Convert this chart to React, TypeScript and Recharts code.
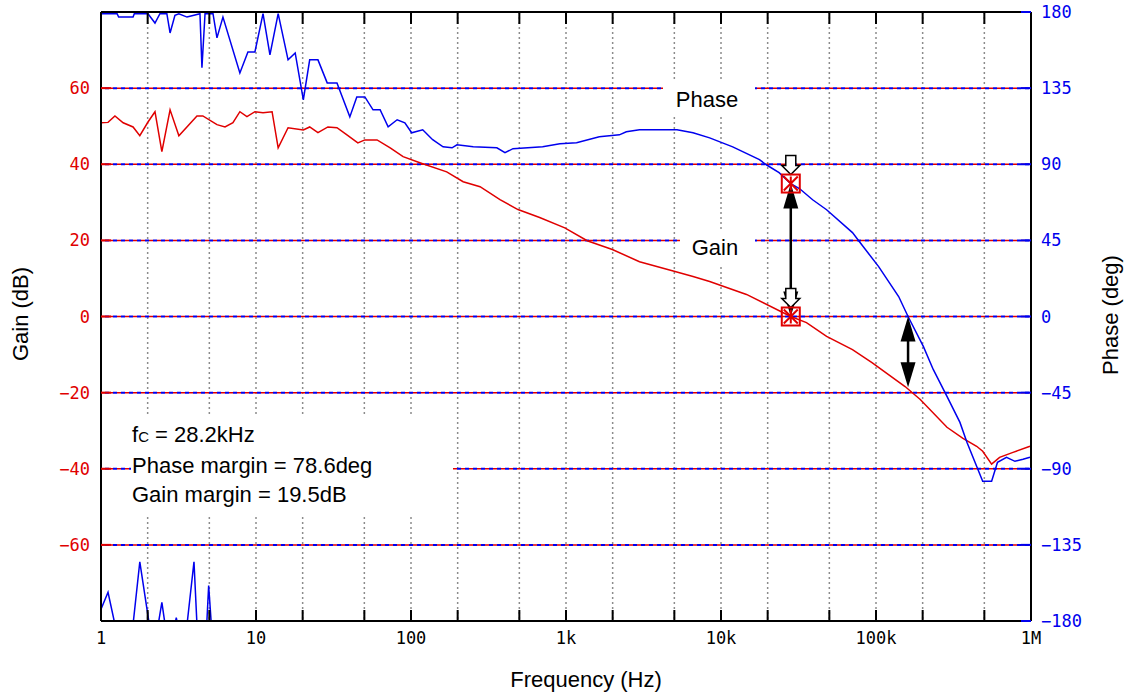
import {
  LineChart,
  Line,
  XAxis,
  YAxis,
  CartesianGrid,
  ReferenceLine,
  ReferenceDot,
} from 'recharts';

// frequency axis
const freqTicks = [
  1, 2, 5, 10, 20, 50, 100, 200, 500, 1000, 2000, 5000, 10000, 20000, 50000, 100000, 200000, 500000,
  1000000,
];
const decadeTicks = [1, 10, 100, 1000, 10000, 100000, 1000000];
const decadeNames = ['1', '10', '100', '1k', '10k', '100k', '1M'];

// left / right axes
const gainTicks = [-60, -40, -20, 0, 20, 40, 60];
const phaseTicks = [-180, -135, -90, -45, 0, 45, 90, 135, 180];

// gain (dB)
const gainFreq = [
  1, 1.11, 1.23, 1.39, 1.61, 1.78, 2.01, 2.23, 2.47, 2.79, 3.18, 4.16, 4.54, 5.6, 6.31, 7.1, 7.87, 8.74,
  9.84, 11.1, 12.7, 13.9, 16.1, 20.2, 22.2, 25.1, 29.1, 33.3, 38.6, 45.4, 50.4, 60.4, 73.4, 88.9, 114,
  170, 217, 279, 375, 490, 676, 982, 1370, 1990, 2980, 5050, 6600, 8450, 14600, 28200, 35600, 48000,
  70500, 94200, 154000, 193000, 287000, 364000, 446000, 488000, 557000, 627000, 765000, 985000,
];
const gainDb = [
  50.9, 51.0, 52.7, 50.9, 49.8, 47.5, 51.1, 53.8, 43.3, 54.3, 47.5, 52.7, 52.7, 50.4, 49.8, 50.9, 53.8,
  52.5, 53.8, 53.5, 53.8, 44.3, 49.6, 49.0, 49.8, 48.3, 49.8, 49.6, 47.7, 45.6, 46.4, 46.4, 44.3, 42.0,
  40.4, 38.0, 35.4, 34.1, 30.7, 28.1, 26.0, 23.3, 19.9, 17.6, 14.4, 11.8, 10.5, 9.2, 5.8, 0, -1.6, -5.2,
  -8.7, -12.1, -18.4, -21.8, -29.1, -32.0, -34.1, -35.4, -38.8, -37.0, -35.7, -34.1,
];

// phase (deg)
const phaseFreq = [
  1, 1.27, 1.3, 1.61, 1.64, 2.01, 2.23, 2.4, 2.66, 2.79, 3.0, 3.18, 3.59, 4.35, 4.48, 4.69, 5.28, 5.6,
  6.12, 7.87, 8.87, 9.84, 11.1, 12.3, 13.9, 16.1, 17.9, 20.2, 22.2, 25.1, 28.8, 33.3, 40.3, 44.7, 50.4,
  56.9, 63.2, 71.2, 81.4, 91.3, 101, 119, 138, 161, 184, 198, 252, 358, 404, 455, 707, 913, 1170, 1640,
  2210, 2450, 2980, 5200, 6600, 8450, 11900, 17700, 19600, 23700, 28200, 32200, 39000, 48000, 70500,
  78000, 104000, 140000, 161000, 202000, 234000, 287000, 348000, 386000, 488000, 557000, 608000, 695000,
  788000, 888000, 985000,
];
const phaseDeg = [
  179, 179, 177, 177, 179, 179, 173.5, 179, 179, 167.6, 178, 179, 177, 179, 147, 179, 179, 164.7, 177,
  144, 156.4, 156.4, 179, 154.6, 179, 151.7, 155.8, 128, 151.7, 151.7, 138.1, 138.1, 118, 129.8, 129.8,
  122.2, 122.2, 112.1, 116.3, 114.5, 108.6, 110.4, 104.5, 100.3, 99.7, 101.5, 100.3, 99.7, 96.8, 99.2,
  100.3, 102.1, 102.7, 106.2, 107.4, 109.2, 110.4, 110.4, 108.6, 105.6, 100.3, 92.7, 89.7, 85, 78.6,
  75.5, 69, 63.1, 49.6, 44.3, 29.5, 11.8, 0, -17.7, -31.3, -47.2, -62.6, -74.4, -97.4, -97.4, -86.2,
  -83.2, -85.6, -84.4, -83.2,
];

// phase wrapped below -180 at low frequency
const wrapFreq = [
  1, 1.11, 1.23, 1.61, 1.78, 1.98, 2.05, 2.34, 2.47, 2.59, 3.0, 3.06, 3.12, 3.59, 3.98, 4.16, 4.81, 4.95,
  5.15,
];
const wrapDeg = [
  -173, -163, -182, -182, -145, -173, -182, -182, -169, -182, -182, -178, -182, -182, -145, -182, -182,
  -159, -182,
];

// crossover results
const fc = 28200;
const phaseMargin = 78.6;
const phaseCross = 161000;
const gainAtCross = -18.6;

const RED = '#e00000';
const BLUE = '#0000ee';
const PLOT_TOP = 12;
const TEXT_FONT = '"Liberation Sans", Arial, sans-serif';
const MONO = '"DejaVu Sans Mono", monospace';

const gainData = gainFreq.map((f, i) => ({ f, gain: gainDb[i] }));
const phaseData = phaseFreq.map((f, i) => ({ f, phase: phaseDeg[i] }));
const wrapData = wrapFreq.map((f, i) => ({ f, phase: wrapDeg[i] }));

const fmt = (v: number) => (v < 0 ? `\u2212${-v}` : `${v}`);

function FreqTick(props: any) {
  const { x, y, payload } = props;
  const idx = decadeTicks.indexOf(payload.value);
  return (
    <g>
      <line x1={x} y1={y} x2={x} y2={y - 11} stroke="#000" strokeWidth={2} />
      <line x1={x} y1={PLOT_TOP} x2={x} y2={PLOT_TOP + 12} stroke="#000" strokeWidth={2} />
      {idx >= 0 && (
        <text x={x} y={y + 23} textAnchor="middle" fontFamily={MONO} fontSize={17} fill="#000">
          {decadeNames[idx]}
        </text>
      )}
    </g>
  );
}

function GainTick(props: any) {
  const { x, y, payload } = props;
  return (
    <g>
      <line x1={x} y1={y} x2={x + 10} y2={y} stroke={RED} strokeWidth={2} />
      <text x={x - 11} y={y + 6} textAnchor="end" fontFamily={MONO} fontSize={17} fill={RED}>
        {fmt(payload.value)}
      </text>
    </g>
  );
}

function PhaseTick(props: any) {
  const { x, y, payload } = props;
  return (
    <g>
      <line x1={x - 10} y1={y} x2={x} y2={y} stroke={BLUE} strokeWidth={2} />
      <text x={x + 10} y={y + 6} textAnchor="start" fontFamily={MONO} fontSize={17} fill={BLUE}>
        {fmt(payload.value)}
      </text>
    </g>
  );
}

function CrossMarker(props: any) {
  const { cx, cy } = props;
  const arrow = `M${cx - 5} ${cy - 28} L${cx + 5} ${cy - 28} L${cx + 5} ${cy - 18} L${cx + 9} ${cy - 18} L${cx} ${cy - 9} L${cx - 9} ${cy - 18} L${cx - 5} ${cy - 18} Z`;
  return (
    <g>
      <path d={arrow} fill="#fff" stroke="#000" strokeWidth={1.5} />
      <rect x={cx - 9} y={cy - 9} width={18} height={18} fill="none" stroke={RED} strokeWidth={2} />
      <path
        d={`M${cx - 7} ${cy - 7} L${cx + 7} ${cy + 7} M${cx + 7} ${cy - 7} L${cx - 7} ${cy + 7} M${cx} ${cy - 7} L${cx} ${cy + 7}`}
        stroke={RED}
        strokeWidth={2}
      />
    </g>
  );
}

function DoubleArrow(props: any) {
  const { x1, y1, y2 } = props;
  const top = Math.min(y1, y2);
  const bot = Math.max(y1, y2);
  return (
    <g>
      <line x1={x1} y1={top + 20} x2={x1} y2={bot - 20} stroke="#000" strokeWidth={2.5} />
      <path d={`M${x1} ${top} L${x1 - 7.5} ${top + 25} L${x1 + 7.5} ${top + 25} Z`} fill="#000" />
      <path d={`M${x1} ${bot} L${x1 - 7.5} ${bot - 25} L${x1 + 7.5} ${bot - 25} Z`} fill="#000" />
    </g>
  );
}

const abs = (left: number, top: number, extra: any = {}) => ({
  position: 'absolute' as const,
  left,
  top,
  ...extra,
});

export default function App() {
  return (
    <div
      style={{
        position: 'fixed',
        left: 0,
        top: 0,
        width: 1130,
        height: 698,
        background: '#fff',
        fontFamily: TEXT_FONT,
      }}
    >
      <LineChart width={1130} height={698} margin={{ top: PLOT_TOP, right: 39, bottom: 37, left: 41 }}>
        <CartesianGrid
          yAxisId="gain"
          horizontal={false}
          stroke="#8c8c8c"
          strokeDasharray="2 3"
          strokeWidth={1.5}
        />
        <XAxis
          dataKey="f"
          type="number"
          scale="log"
          domain={[1, 1000000]}
          ticks={freqTicks}
          interval={0}
          allowDataOverflow
          height={40}
          tickSize={0}
          tickMargin={0}
          tickLine={false}
          tick={<FreqTick />}
          axisLine={{ stroke: '#000', strokeWidth: 2 }}
        />
        <YAxis
          yAxisId="gain"
          orientation="left"
          type="number"
          domain={[-80, 80]}
          ticks={gainTicks}
          interval={0}
          allowDataOverflow
          width={60}
          tickSize={0}
          tickMargin={0}
          tickLine={false}
          tick={<GainTick />}
          axisLine={{ stroke: '#000', strokeWidth: 2 }}
        />
        <YAxis
          yAxisId="phase"
          orientation="right"
          type="number"
          domain={[-180, 180]}
          ticks={phaseTicks}
          interval={0}
          allowDataOverflow
          width={60}
          tickSize={0}
          tickMargin={0}
          tickLine={false}
          tick={<PhaseTick />}
          axisLine={{ stroke: '#000', strokeWidth: 2 }}
        />
        {gainTicks.map((v) => (
          <ReferenceLine key={`r${v}`} yAxisId="gain" y={v} stroke={RED} strokeWidth={1.5} strokeDasharray="4 4" />
        ))}
        {gainTicks.map((v) => (
          <ReferenceLine
            key={`b${v}`}
            yAxisId="gain"
            y={v}
            stroke={BLUE}
            strokeWidth={2}
            strokeDasharray="0 4 4 0"
          />
        ))}
        <ReferenceLine yAxisId="phase" y={180} stroke="#000" strokeWidth={2} />
        <Line
          data={gainData}
          yAxisId="gain"
          dataKey="gain"
          type="linear"
          stroke={RED}
          strokeWidth={1.5}
          dot={false}
          isAnimationActive={false}
        />
        <Line
          data={phaseData}
          yAxisId="phase"
          dataKey="phase"
          type="linear"
          stroke={BLUE}
          strokeWidth={1.5}
          dot={false}
          isAnimationActive={false}
        />
        <Line
          data={wrapData}
          yAxisId="phase"
          dataKey="phase"
          type="linear"
          stroke={BLUE}
          strokeWidth={1.5}
          dot={false}
          isAnimationActive={false}
        />
        <ReferenceDot yAxisId="phase" x={fc} y={phaseMargin} r={9} shape={<CrossMarker />} />
        <ReferenceDot yAxisId="gain" x={fc} y={0} r={9} shape={<CrossMarker />} />
        <ReferenceLine
          yAxisId="phase"
          segment={[
            { x: fc, y: phaseMargin },
            { x: fc, y: 0 },
          ]}
          shape={(p: any) => <DoubleArrow {...p} />}
        />
        <ReferenceLine
          yAxisId="gain"
          segment={[
            { x: phaseCross, y: 0 },
            { x: phaseCross, y: gainAtCross },
          ]}
          shape={(p: any) => <DoubleArrow {...p} />}
        />
      </LineChart>

      {/* label boxes that blank out the grid behind them */}
      <div style={abs(663, 82, { width: 92, height: 34, background: '#fff' })} />
      <div style={abs(707, 100, { transform: 'translate(-50%,-50%)', fontSize: 22, whiteSpace: 'nowrap' })}>
        Phase
      </div>
      <div style={abs(680, 229, { width: 75, height: 36, background: '#fff' })} />
      <div style={abs(715, 248, { transform: 'translate(-50%,-50%)', fontSize: 22, whiteSpace: 'nowrap' })}>
        Gain
      </div>
      <div style={abs(131, 415, { width: 322, height: 102, background: '#fff' })} />
      <div style={abs(132, 420, { fontSize: 22, lineHeight: '29px', whiteSpace: 'nowrap' })}>
        <div>
          f<span style={{ fontSize: 15 }}>C</span> = 28.2kHz
        </div>
        <div>Phase margin = 78.6deg</div>
        <div>Gain margin = 19.5dB</div>
      </div>

      {/* axis titles */}
      <div
        style={abs(21, 314, {
          transform: 'translate(-50%,-50%) rotate(-90deg)',
          fontSize: 22,
          whiteSpace: 'nowrap',
        })}
      >
        Gain (dB)
      </div>
      <div
        style={abs(1111, 315, {
          transform: 'translate(-50%,-50%) rotate(-90deg)',
          fontSize: 22,
          whiteSpace: 'nowrap',
        })}
      >
        Phase (deg)
      </div>
      <div style={abs(586, 680, { transform: 'translate(-50%,-50%)', fontSize: 22, whiteSpace: 'nowrap' })}>
        Frequency (Hz)
      </div>
    </div>
  );
}
